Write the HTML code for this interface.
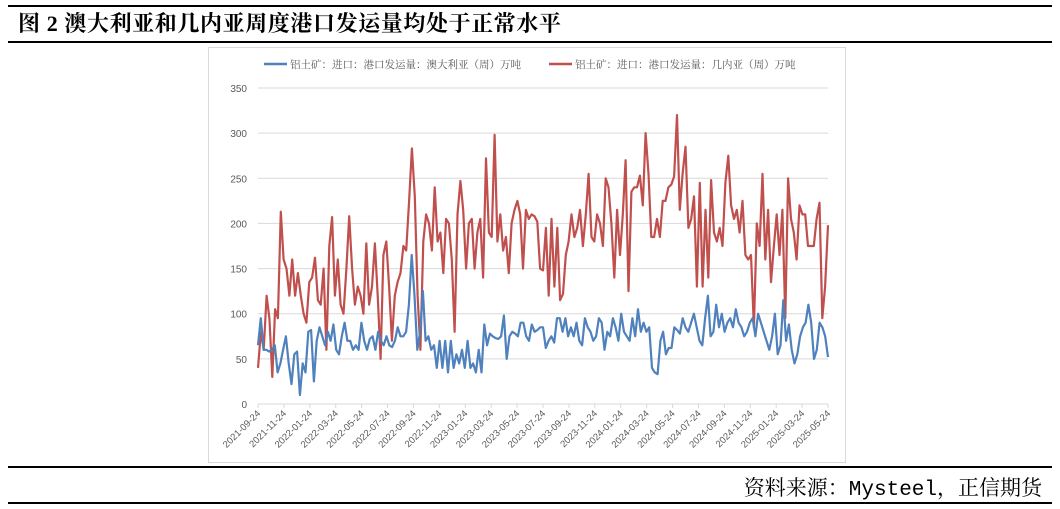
<!DOCTYPE html>
<html><head><meta charset="utf-8"><style>
body{margin:0;background:#fff;width:1060px;height:509px;overflow:hidden;position:relative;font-family:"Liberation Serif","Noto Serif CJK SC",serif}
.hl{position:absolute;left:8px;width:1044px;height:2px;background:#000}
#title{position:absolute;left:18px;top:7px;font-size:22px;font-weight:bold;color:#000;white-space:nowrap;font-family:"Liberation Serif","Noto Serif CJK SC",serif;letter-spacing:0.6px}
#src{position:absolute;right:18px;top:472px;font-size:21px;color:#000;white-space:nowrap;font-family:"Liberation Mono","Noto Serif CJK SC",serif}
#box{position:absolute;left:208px;top:47px;width:638px;height:416px;border:1px solid #d9d9d9;box-sizing:border-box}
svg{position:absolute;left:0;top:0}
</style></head><body>
<div class="hl" style="top:5px"></div>
<div id="title">图 2 澳大利亚和几内亚周度港口发运量均处于正常水平</div>
<div class="hl" style="top:41px"></div>
<div id="box"></div>
<svg id="chart" width="1060" height="509"></svg>
<div class="hl" style="top:466px"></div>
<div id="src">资料来源：Mysteel，正信期货</div>
<div class="hl" style="top:502px"></div>
<script>
const xLabels=["2021-09-24","2021-11-24","2022-01-24","2022-03-24","2022-05-24","2022-07-24","2022-09-24","2022-11-24","2023-01-24","2023-03-24","2023-05-24","2023-07-24","2023-09-24","2023-11-24","2024-01-24","2024-03-24","2024-05-24","2024-07-24","2024-09-24","2024-11-24","2025-01-24","2025-03-24","2025-05-24"];
const yTicks=[0,50,100,150,200,250,300,350];
const guinea=[40,80,60,120,95,30,105,95,213,160,150,120,160,120,145,120,100,90,135,140,162,115,110,150,60,175,207,120,160,110,100,150,208,150,110,130,120,100,178,110,130,178,120,50,165,180,130,70,120,135,145,175,170,225,283,230,120,60,180,210,200,170,240,180,190,145,205,200,160,80,210,247,215,150,200,205,150,190,205,140,272,190,185,298,180,210,170,185,145,200,215,225,210,150,215,205,210,208,202,150,148,195,120,205,130,195,115,122,165,180,210,185,195,215,175,210,255,185,180,210,200,175,250,240,200,140,215,165,210,270,125,235,240,240,253,220,300,255,185,185,205,185,225,225,240,243,252,320,215,255,285,195,205,230,130,245,130,215,140,248,190,180,195,175,245,275,220,205,215,190,225,165,160,165,85,200,175,255,160,215,135,175,210,165,215,95,250,205,190,160,220,210,210,175,175,175,205,223,95,130,198];
const australia=[65,95,60,60,58,60,65,35,45,60,75,45,22,55,58,10,45,35,80,82,25,70,85,75,65,80,70,88,60,55,75,90,70,70,60,65,60,90,70,60,72,75,60,80,70,65,75,65,63,70,85,75,75,80,110,165,120,60,80,125,70,75,60,65,40,70,40,70,35,70,40,55,45,60,40,70,40,45,35,60,35,88,65,78,75,73,72,75,98,50,75,80,78,75,90,90,75,70,88,80,82,85,85,62,70,75,68,95,95,80,95,75,85,75,90,70,65,95,85,80,70,75,95,90,60,80,75,95,85,70,100,80,75,70,95,75,105,80,90,80,85,40,35,33,70,80,55,62,62,85,82,78,95,85,80,90,100,85,70,65,95,120,75,80,110,85,100,80,90,95,85,105,90,85,75,80,90,95,75,100,90,80,70,60,75,100,55,65,115,70,88,60,45,55,75,85,90,110,90,50,60,90,85,75,52];
const ns="http://www.w3.org/2000/svg";
const svg=document.getElementById('chart');
const X0=258,X1=828,Y0=404,Y1=88;
const yS=v=>Y0-(v/350)*(Y0-Y1);
function mk(t,a){const e=document.createElementNS(ns,t);for(const k in a)e.setAttribute(k,a[k]);svg.appendChild(e);return e;}
yTicks.forEach(v=>{
  const g=mk('line',{x1:X0,x2:X1,y1:yS(v),y2:yS(v),stroke:'#d9d9d9','stroke-width':1});
  
  
  const t=mk('text',{x:247,y:yS(v)+4,'text-anchor':'end','font-size':10,fill:'#595959','font-family':'Liberation Sans, sans-serif'});
  t.textContent=v;
  
  
});
xLabels.forEach((l,i)=>{
  const x=X0+i*(X1-X0)/(xLabels.length-1);
  const tk=mk('line',{x1:x,x2:x,y1:Y0,y2:Y0+4,stroke:'#d9d9d9'});
  
  
  const t=mk('text',{x:x+3,y:Y0+10,'text-anchor':'end','font-size':9.5,fill:'#595959','font-family':'Liberation Sans, sans-serif',transform:`rotate(-45 ${x+3} ${Y0+10})`});
  t.textContent=l;
  
  
});
function series(arr,col,name){
  const m=arr.length;
  const pts=arr.map((v,i)=>(X0+i*(X1-X0)/(m-1)).toFixed(1)+','+yS(v).toFixed(1)).join(' ');
  const p=mk('polyline',{points:pts,fill:'none',stroke:col,'stroke-width':2.2,'stroke-linejoin':'round'});
  
  
}
series(guinea,'#c0504d','series-guinea');
series(australia,'#4f81bd','series-australia');
function legend(x,col,txt,name){
  const l=mk('line',{x1:x,x2:x+23,y1:64,y2:64,stroke:col,'stroke-width':2.5});
  
  
  const t=mk('text',{x:x+26,y:68,'font-size':10.5,fill:'#595959','font-family':'Liberation Serif, Noto Serif CJK SC, serif'});
  t.textContent=txt;
  
  
}
legend(264,'#4f81bd','铝土矿：进口：港口发运量：澳大利亚（周）万吨','legend-australia');
legend(549,'#c0504d','铝土矿：进口：港口发运量：几内亚（周）万吨','legend-guinea');
</script>
</body></html>
